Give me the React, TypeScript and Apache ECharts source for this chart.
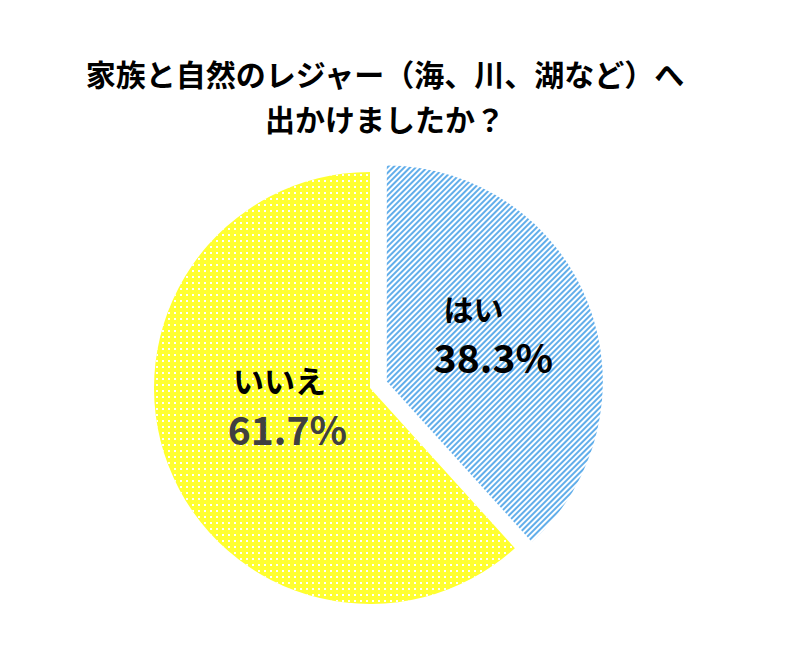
import React, { useEffect, useRef } from "react";
import * as echarts from "echarts";

const categories = ["はい", "いいえ"];
const values = [38.3, 61.7];
const titleLines = ["家族と自然のレジャー（海、川、湖など）へ", "出かけましたか？"];

const FONT = "'Noto Sans CJK JP', 'Noto Sans', sans-serif";

const fills = [
  {
    color: "#ffffff",
    decal: {
      symbol: "rect",
      symbolSize: 1,
      dashArrayX: [1, 0],
      dashArrayY: [1.4, 1.7],
      rotation: -Math.PI / 4,
      color: "#62aeea",
    },
  },
  {
    color: "#ffff30",
    decal: {
      symbol: "rect",
      symbolSize: 1,
      dashArrayX: [2, 4],
      dashArrayY: [2, 4],
      rotation: 0,
      color: "#ffffff",
    },
  },
];
const nameLabelStyles = [
  { offset: [-17, -34], fontSize: 30, color: "#000" },
  { offset: [13, -48], fontSize: 31, color: "#000" },
];
const valueLabelStyles = [
  { offset: [3, 14], fontSize: 39, color: "#000" },
  { offset: [21, 0], fontSize: 39, color: "#404040" },
];

export default function App() {
  const ref = useRef<HTMLDivElement>(null);
  useEffect(() => {
    document.body.style.margin = "0";
    const chart = echarts.init(ref.current!, undefined, { renderer: "svg" });
    const base = {
      type: "pie",
      center: [370, 388],
      radius: 216,
      startAngle: 90,
      clockwise: true,
      selectedMode: "single",
      selectedOffset: 18,
      emphasis: { disabled: true },
      labelLine: { show: false },
    };
    chart.setOption({
      animation: false,
      backgroundColor: "#ffffff",
      graphic: titleLines.map((t, i) => ({
        type: "text",
        x: 385,
        y: 73 + i * 45,
        style: {
          text: t,
          align: "center",
          verticalAlign: "middle",
          fontSize: 30,
          fontWeight: "bold",
          fontFamily: FONT,
          fill: "#000",
        },
      })),
      series: [
        {
          ...base,
          label: {
            show: true,
            position: "inside",
            formatter: "{b}",
            fontWeight: "bold",
            fontFamily: FONT,
          },
          data: categories.map((c, i) => ({
            name: c,
            value: values[i],
            selected: i === 0,
            itemStyle: fills[i],
            label: nameLabelStyles[i],
            select: { itemStyle: fills[i], label: nameLabelStyles[i] },
          })),
        },
        {
          ...base,
          silent: true,
          label: {
            show: true,
            position: "inside",
            formatter: (p: any) => `${p.value}%`,
            fontWeight: "bold",
            fontFamily: FONT,
          },
          data: categories.map((c, i) => ({
            name: c,
            value: values[i],
            selected: i === 0,
            itemStyle: { color: "rgba(0,0,0,0)" },
            label: valueLabelStyles[i],
            select: { itemStyle: { color: "rgba(0,0,0,0)" }, label: valueLabelStyles[i] },
          })),
        },
      ],
    });
    return () => chart.dispose();
  }, []);
  return <div ref={ref} style={{ width: 800, height: 668 }} />;
}
